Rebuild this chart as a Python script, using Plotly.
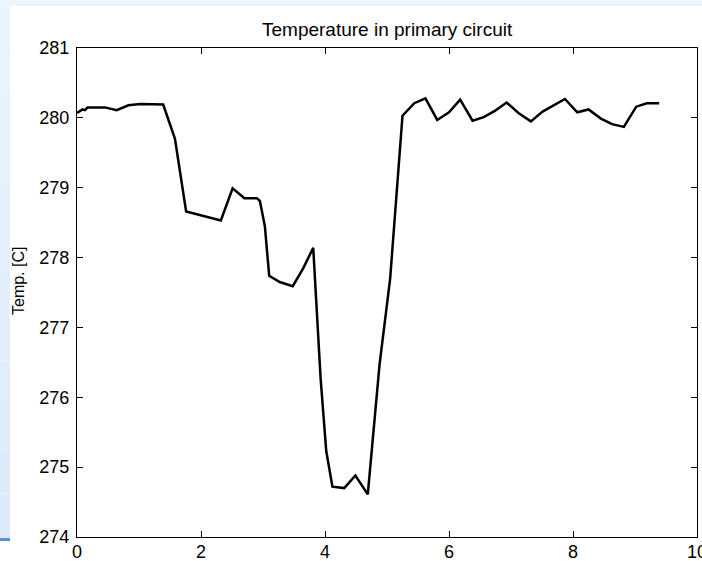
import plotly.graph_objects as go

# ---- data ----
time_s = [0.0, 0.05, 0.09, 0.13, 0.17, 0.45, 0.64, 0.83, 1.02, 1.39, 1.58, 1.76,
          2.12, 2.32, 2.51, 2.70, 2.90, 2.95, 3.03, 3.10, 3.27, 3.48, 3.65, 3.81,
          3.93, 4.02, 4.12, 4.31, 4.49, 4.69, 4.88, 5.05, 5.25, 5.44, 5.62, 5.81,
          6.00, 6.18, 6.38, 6.56, 6.74, 6.93, 7.12, 7.32, 7.51, 7.68, 7.87, 8.07,
          8.25, 8.45, 8.63, 8.82, 9.02, 9.19, 9.39]
temp_c = [280.07, 280.10, 280.12, 280.11, 280.15, 280.15, 280.11, 280.18, 280.20, 280.19, 279.70, 278.66,
          278.57, 278.53, 278.99, 278.85, 278.85, 278.81, 278.45, 277.74, 277.65, 277.59, 277.85, 278.14,
          276.26, 275.23, 274.72, 274.70, 274.88, 274.61, 276.47, 277.69, 280.03, 280.21, 280.28, 279.97,
          280.08, 280.26, 279.96, 280.01, 280.10, 280.22, 280.07, 279.95, 280.09, 280.17, 280.27, 280.08,
          280.12, 279.99, 279.91, 279.87, 280.16, 280.21, 280.21]
x_ticks = [0, 2, 4, 6, 8, 10]
y_ticks = [274, 275, 276, 277, 278, 279, 280, 281]
title_text = "Temperature in primary circuit"
y_label = "Temp. [C]"

W, H = 702, 561
L, R, T, B = 77, 5, 48, 24
PW, PH = W - L - R, H - T - B

def px(x):
    return (x - L) / PW

def py(y):
    return (H - B - y) / PH

fig = go.Figure()
fig.add_trace(go.Scatter(x=time_s, y=temp_c, mode="lines",
                         line=dict(color="black", width=2.5), showlegend=False))

shapes = []
# top band
shapes.append(dict(type="rect", xref="paper", yref="paper", layer="below",
                   x0=px(0), x1=px(W), y0=py(6), y1=py(0),
                   fillcolor="#ebf5fe", line=dict(width=0)))
# left band with gradient
n = 12
c0 = (0xea, 0xf4, 0xfd)
c1 = (0xdc, 0xea, 0xf9)
top, bot = 6, 538
for i in range(n):
    t = i / (n - 1)
    c = tuple(round(a + (b - a) * t) for a, b in zip(c0, c1))
    ya = top + (bot - top) * i / n
    yb = top + (bot - top) * (i + 1) / n
    shapes.append(dict(type="rect", xref="paper", yref="paper", layer="below",
                       x0=px(0), x1=px(10), y0=py(yb), y1=py(ya),
                       fillcolor="rgb(%d,%d,%d)" % c, line=dict(width=0)))
# blue rule
shapes.append(dict(type="rect", xref="paper", yref="paper", layer="below",
                   x0=px(0), x1=px(10), y0=py(541), y1=py(538),
                   fillcolor="#5b8ed6", line=dict(width=0)))

fig.update_layout(
    width=W, height=H,
    margin=dict(l=L, r=R, t=T, b=B, pad=0, autoexpand=False),
    paper_bgcolor="white", plot_bgcolor="white",
    font=dict(family="Liberation Sans, Arial, sans-serif", color="black"),
    shapes=shapes,
    annotations=[
        dict(text=title_text, xref="paper", yref="paper", x=0.5, y=py(30),
             xanchor="center", yanchor="middle", showarrow=False,
             font=dict(size=19, color="black")),
        dict(text=y_label, xref="paper", yref="paper", x=px(18), y=py(281),
             xanchor="center", yanchor="middle", showarrow=False, textangle=-90,
             font=dict(size=16, color="black")),
    ],
    xaxis=dict(range=[0, 10], tickvals=x_ticks, ticks="inside", ticklen=6,
               tickcolor="black", showline=True, linecolor="black", linewidth=1,
               mirror="allticks", showgrid=False, zeroline=False, automargin=False,
               tickfont=dict(size=18, color="black"), ticklabelstandoff=-2,
               ticklabeloverflow="allow"),
    yaxis=dict(range=[274, 281], tickvals=y_ticks, ticks="inside", ticklen=6,
               tickcolor="black", showline=True, linecolor="black", linewidth=1,
               mirror="allticks", showgrid=False, zeroline=False, automargin=False,
               tickfont=dict(size=18, color="black"), ticklabelstandoff=3),
)

fig.write_html("out.html")
